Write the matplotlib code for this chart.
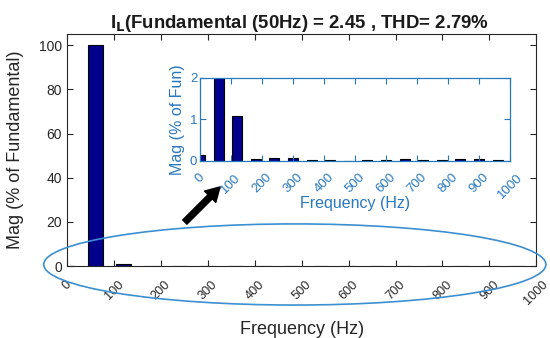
import matplotlib
matplotlib.use('Agg')
import matplotlib.pyplot as plt
from matplotlib.patches import Ellipse, FancyArrowPatch
import numpy as np

plt.rcParams['font.family'] = ['Liberation Sans', 'DejaVu Sans']

# harmonic spectrum of I_L, bins every 60 Hz
freq = [0, 60, 120, 180, 240, 300, 360, 420, 480, 540, 600, 660, 720, 780, 840, 900, 960]
mag = [0.15, 100, 1.08, 0.05, 0.08, 0.065, 0.03, 0.02, 0.01, 0.025, 0.025,
       0.05, 0.03, 0.035, 0.055, 0.04, 0.035]
xticks = np.arange(0, 1001, 100)
main_yticks = [0, 20, 40, 60, 80, 100]
inset_yticks = [0, 1, 2]

dark = '#262626'
blue = '#2878BD'
bar_color = '#00008B'

fig = plt.figure(figsize=(5.5, 3.38), dpi=100)

# main axes
ax = fig.add_axes([0.122, 0.213, 0.853, 0.686])
ax.bar(freq, mag, width=32, color=bar_color, edgecolor='black', linewidth=0.8)
ax.set_xlim(0, 1000)
ax.set_ylim(0, 105)
ax.set_xticks(xticks)
ax.set_xticklabels([str(t) for t in xticks], rotation=45, ha='center', va='top')
ax.set_yticks(main_yticks)
ax.tick_params(direction='in', top=True, right=True, length=4, width=0.8,
               colors=dark, labelsize=10)
ax.tick_params(axis='x', pad=9, labelsize=9.2)
for s in ax.spines.values():
    s.set_color(dark)
    s.set_linewidth(0.8)
ax.set_ylabel('Mag (% of Fundamental)', fontsize=13, color=dark)
ax.set_xlabel('Frequency (Hz)', fontsize=13, color=dark)
ax.yaxis.set_label_coords(-0.092, 0.5)
ax.xaxis.set_label_coords(0.5, -0.238)

fig.text(0.545, 0.917, r'I$_\mathbf{L}$(Fundamental (50Hz) = 2.45 , THD= 2.79%',
         ha='center', va='baseline', fontsize=13.4, fontweight='bold', color='#1a1a1a')

# inset zoom
ins = fig.add_axes([0.3636, 0.5237, 0.5636, 0.247])
ins.bar(freq, mag, width=32, color=bar_color, edgecolor='black', linewidth=0.8)
ins.set_xlim(0, 1000)
ins.set_ylim(0, 2)
ins.set_xticks(xticks)
ins.set_xticklabels([str(t) for t in xticks], rotation=45, ha='center', va='top')
ins.set_yticks(inset_yticks)
ins.tick_params(direction='in', top=True, right=True, length=4, width=0.8,
                colors=blue, labelsize=9.5)
ins.tick_params(axis='x', pad=7.5)
ins.tick_params(axis='y', pad=2)
for s in ins.spines.values():
    s.set_color(blue)
    s.set_linewidth(0.9)
ins.set_ylabel('Mag (% of Fun)', fontsize=11.5, color=blue)
ins.set_xlabel('Frequency (Hz)', fontsize=11.5, color=blue)
ins.yaxis.set_label_coords(-0.048, 0.5)
ins.xaxis.set_label_coords(0.5, -0.419)

# ellipse around the small harmonics and the arrow to the inset
fig.add_artist(Ellipse((0.536, 0.2175), 0.913, 0.24, transform=fig.transFigure,
                       fill=False, edgecolor='#3C8FD0', linewidth=1.2))
fig.add_artist(FancyArrowPatch((0.336, 0.343), (0.4, 0.447), transform=fig.transFigure,
                               arrowstyle='simple,head_length=1.0,head_width=1.15,tail_width=0.43',
                               mutation_scale=10, color='black', shrinkA=0, shrinkB=0))

fig.savefig('out.png', dpi=100)
